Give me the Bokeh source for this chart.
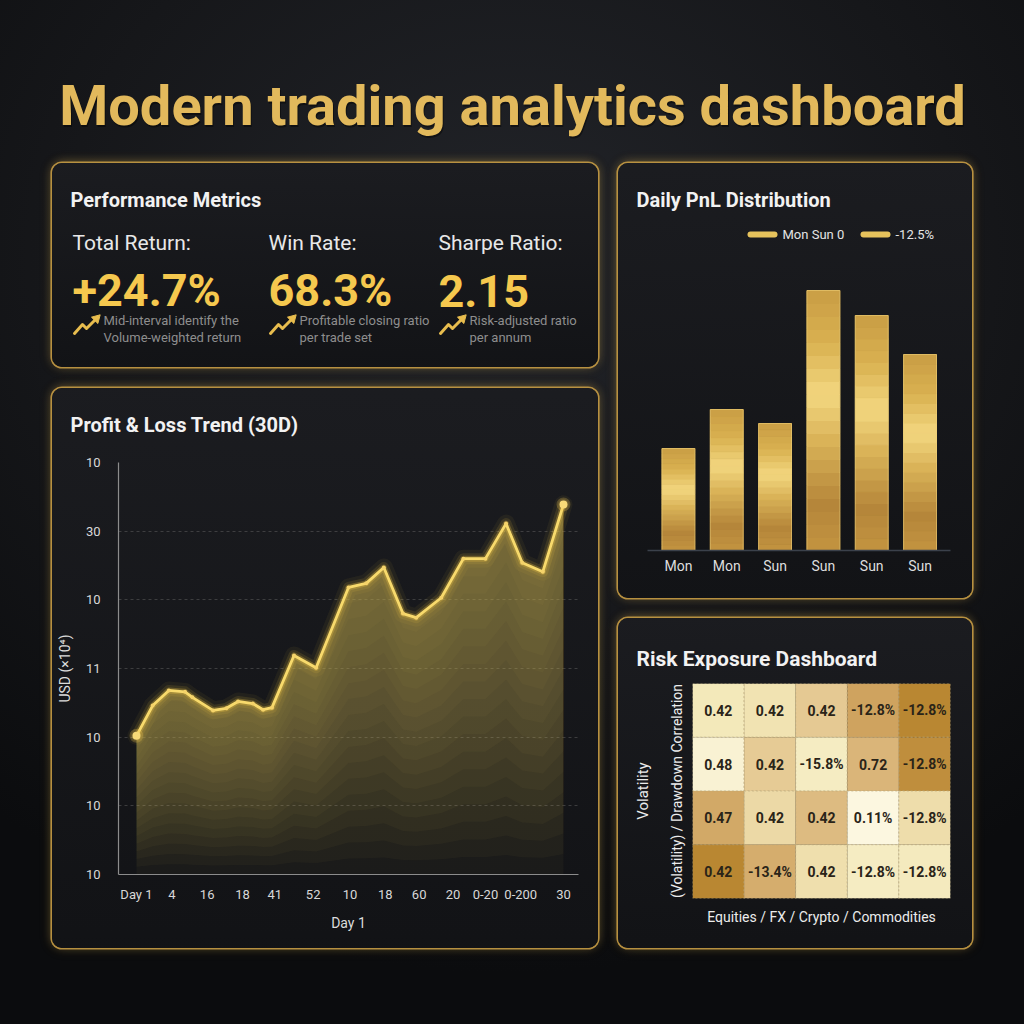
from bokeh.plotting import figure
from bokeh.layouts import column, row
from bokeh.models import Spacer, Range1d, FixedTicker, LinearAxis, ColumnDataSource, LinearColorMapper
from bokeh.core.properties import value
from bokeh.embed import file_html
from bokeh.resources import INLINE

FONT = "Roboto"

# ---------------- data ----------------
title_text = "Modern trading analytics dashboard"

metric_labels = ["Total Return:", "Win Rate:", "Sharpe Ratio:"]
metric_values = ["+24.7%", "68.3%", "2.15"]
metric_notes_1 = ["Mid-interval identify the", "Profitable closing ratio", "Risk-adjusted ratio"]
metric_notes_2 = ["Volume-weighted return", "per trade set", "per annum"]

pnl_days = [1, 2.1, 3.2, 4.3, 4.8, 6.2, 7.1, 7.9, 8.9, 9.6, 10.2, 11.7, 13.2,
            15.4, 16.6, 17.8, 19.1, 20.0, 21.7, 23.2, 24.7, 26.1, 27.2, 28.6, 30]
pnl_usd = [20.2, 24.6, 26.8, 26.6, 25.8, 23.9, 24.2, 25.2, 24.9, 24.0, 24.3, 31.9, 30.1,
           41.8, 42.4, 44.7, 38.0, 37.4, 40.3, 46.0, 46.0, 51.1, 45.4, 44.1, 53.9]
x_tick_days = [1, 3.4, 5.8, 8.2, 10.4, 13, 15.5, 17.9, 20.2, 22.5, 24.7, 27.1, 30]
x_tick_labels = ["Day 1", "4", "16", "18", "41", "52", "10", "18", "60", "20", "0-20", "0-200", "30"]
y_tick_values = [0, 10, 20, 30, 40, 50, 60]
y_tick_labels = ["10", "10", "10", "11", "10", "30", "10"]

bar_days = ["Mon", "Mon", "Sun", "Sun", "Sun", "Sun"]
bar_pnl = [10.2, 14.1, 12.7, 26.0, 23.5, 19.6]
bar_legend = ["Mon Sun 0", "-12.5%"]

risk_levels = [
    [0.15, 0.20, 0.40, 0.70, 0.95],
    [0.06, 0.38, 0.12, 0.55, 0.88],
    [0.65, 0.28, 0.50, 0.00, 0.24],
    [0.95, 0.62, 0.22, 0.12, 0.14],
]
risk_labels = [
    ["0.42", "0.42", "0.42", "-12.8%", "-12.8%"],
    ["0.48", "0.42", "-15.8%", "0.72", "-12.8%"],
    ["0.47", "0.42", "0.42", "0.11%", "-12.8%"],
    ["0.42", "-13.4%", "0.42", "-12.8%", "-12.8%"],
]

# ---------------- styling helpers ----------------
def hex2rgb(h):
    h = h.lstrip("#")
    return tuple(int(h[i:i + 2], 16) for i in (0, 2, 4))


def grad(stops, t):
    for (p0, c0), (p1, c1) in zip(stops[:-1], stops[1:]):
        if p0 <= t <= p1:
            f = 0 if p1 == p0 else (t - p0) / (p1 - p0)
            a, b = hex2rgb(c0), hex2rgb(c1)
            return "#%02x%02x%02x" % tuple(int(round(a[i] + (b[i] - a[i]) * f)) for i in range(3))
    return stops[-1][1]


PANEL = {
    "background": "linear-gradient(180deg, rgba(27,28,32,0.97) 0%, rgba(18,19,22,0.97) 100%)",
    "border-radius": "10px",
    "box-shadow": "0 0 0 1.6px rgba(190,150,66,0.95), 0 -1px 10px rgba(235,190,90,0.32), 0 0 14px rgba(200,155,60,0.18)",
    "overflow": "hidden",
}


def base_fig(w, h, **kw):
    p = figure(width=w, height=h, output_backend="svg", toolbar_location=None, **kw)
    p.background_fill_alpha = 0
    p.border_fill_alpha = 0
    p.outline_line_color = None
    p.min_border = 0
    return p


def pixel_fig(w, h, **kw):
    p = base_fig(w, h, x_range=Range1d(0, w), y_range=Range1d(h, 0),
                 x_axis_location=None, y_axis_location=None, **kw)
    p.grid.visible = False
    return p


def txt(p, x, y, t, size, color, style="normal", align="left", baseline="alphabetic", alpha=1.0, font=FONT):
    p.text(x=x, y=y, text=t, text_font=value(font), text_font_size=size, text_font_style=style,
           text_color=color, text_align=align, text_baseline=baseline, text_alpha=alpha)


def panel(header, chart):
    return column(column(header), column(chart), styles=PANEL)


# ---------------- title ----------------
tf = pixel_fig(1024, 163)
txt(tf, [513], [107], [title_text], "56px", "#000000", "bold", "center", alpha=0.4)
txt(tf, [512], [105], [title_text], "56px", "#e2b95c", "bold", "center")

# ---------------- performance metrics ----------------
mp = pixel_fig(546, 204, styles=PANEL)
txt(mp, [18], [36], ["Performance Metrics"], "20px", "#f2f2f2", "bold")
col_x = [20, 216, 386]
txt(mp, col_x, [79] * 3, metric_labels, "21px", "#e8e8e8")
txt(mp, col_x, [127] * 3, metric_values, "45px", "#f5c84e", "bold")
icon_dx = [2, 10, 14, 23]
icon_dy = [170, 161, 165, 156]
mp.multi_line(xs=[[cx + d for d in icon_dx] for cx in col_x], ys=[icon_dy] * 3,
              line_color="#e8bd4e", line_width=3, line_cap="round", line_join="round")
mp.scatter(x=[cx + 24 for cx in col_x], y=[155] * 3, marker="triangle", size=9,
           angle=-0.785, fill_color="#e8bd4e", line_color="#e8bd4e")
txt(mp, [cx + 31 for cx in col_x], [157] * 3, metric_notes_1, "13px", "#8e8e8e")
txt(mp, [cx + 31 for cx in col_x], [174] * 3, metric_notes_2, "13px", "#8e8e8e")

# ---------------- PnL trend ----------------
lh = pixel_fig(546, 60)
txt(lh, [18], [36], ["Profit & Loss Trend (30D)"], "20px", "#f2f2f2", "bold")

lp = base_fig(546, 500, x_range=Range1d(-0.22, 31.02), y_range=Range1d(0, 60))
lp.min_border_left = 66
lp.min_border_right = 20
lp.min_border_top = 14
lp.min_border_bottom = 74
lp.xgrid.visible = False
lp.ygrid.ticker = FixedTicker(ticks=y_tick_values)
lp.ygrid.grid_line_color = "#5c5c5c"
lp.ygrid.grid_line_alpha = 0.55
lp.ygrid.grid_line_dash = "3 3"

lp.xaxis.ticker = FixedTicker(ticks=x_tick_days)
lp.xaxis.major_label_overrides = dict(zip(x_tick_days, x_tick_labels))
lp.yaxis.ticker = FixedTicker(ticks=y_tick_values)
lp.yaxis.major_label_overrides = dict(zip(y_tick_values, y_tick_labels))
for ax in (lp.xaxis, lp.yaxis):
    ax.axis_line_color = "#8c8c8c"
    ax.axis_line_width = 1.2
    ax.major_tick_line_color = None
    ax.minor_tick_line_color = None
    ax.major_label_text_color = "#d8d8d8"
    ax.major_label_text_font = FONT
    ax.major_label_text_font_size = "13px"
    ax.axis_label_text_font = FONT
    ax.axis_label_text_font_size = "14px"
    ax.axis_label_text_font_style = "normal"
    ax.axis_label_text_color = "#dcdcdc"
lp.xaxis.axis_label = "Day 1"
lp.xaxis.major_label_standoff = 6
lp.xaxis.axis_label_standoff = 10
lp.yaxis.axis_label = "USD (×10⁴)"
lp.yaxis.major_label_standoff = 12
lp.yaxis.axis_label_standoff = 10

N_AREA = 18
for k in range(N_AREA):
    lp.varea(x=pnl_days, y1=[v * k / N_AREA for v in pnl_usd], y2=pnl_usd,
             fill_color="#cdb052", fill_alpha=0.042)
for w, a in ((18, 0.06), (11, 0.12), (6, 0.28)):
    lp.line(pnl_days, pnl_usd, line_color="#f2c444", line_width=w, line_alpha=a,
            line_join="round", line_cap="round")
lp.line(pnl_days, pnl_usd, line_color="#f8da6c", line_width=2.8, line_join="round", line_cap="round")
lp.scatter(pnl_days, pnl_usd, size=4, fill_color="#f5d36a", line_color=None)
lp.scatter([pnl_days[0], pnl_days[-1]], [pnl_usd[0], pnl_usd[-1]], size=14,
           fill_color="#f5c84e", fill_alpha=0.25, line_color=None)
lp.scatter([pnl_days[0], pnl_days[-1]], [pnl_usd[0], pnl_usd[-1]], size=8,
           fill_color="#f8da78", line_color=None)

line_panel = panel(lh, lp)

# ---------------- daily PnL bars ----------------
bh = pixel_fig(354, 90)
txt(bh, [18], [36], ["Daily PnL Distribution"], "20px", "#f2f2f2", "bold")
leg_x = [132, 245]
bh.segment(x0=leg_x, y0=[71, 71], x1=[x + 24 for x in leg_x], y1=[71, 71],
           line_color="#e6c25c", line_width=6, line_cap="round")
txt(bh, [x + 32 for x in leg_x], [71, 71], bar_legend, "13px", "#e4e4e4", baseline="middle")

bar_x = list(range(1, len(bar_pnl) + 1))
bp = base_fig(354, 345, x_range=Range1d(0.36, 6.63), y_range=Range1d(0, 28.5), y_axis_location=None)
bp.min_border_left = 29
bp.min_border_right = 22
bp.min_border_top = 12
bp.min_border_bottom = 48
bp.grid.visible = False
bp.xaxis.ticker = FixedTicker(ticks=bar_x)
bp.xaxis.major_label_overrides = dict(zip(bar_x, bar_days))
bp.xaxis.axis_line_color = "#3b414b"
bp.xaxis.axis_line_width = 1.6
bp.xaxis.major_tick_line_color = None
bp.xaxis.minor_tick_line_color = None
bp.xaxis.major_label_text_color = "#dedede"
bp.xaxis.major_label_text_font = FONT
bp.xaxis.major_label_text_font_size = "14px"
bp.xaxis.major_label_standoff = 1

bar_stops = [(0.0, "#c39440"), (0.18, "#b5863a"), (0.42, "#d9b257"), (0.6, "#f3d780"),
             (0.8, "#d9b150"), (1.0, "#c99d45")]
N_BAR = 20
for k in range(N_BAR):
    c = grad(bar_stops, (k + 0.5) / N_BAR)
    bp.vbar(x=bar_x, width=0.68, bottom=[v * k / N_BAR for v in bar_pnl],
            top=[v * (k + 1) / N_BAR for v in bar_pnl],
            fill_color=c, line_color=c, line_width=1)
bp.vbar(x=bar_x, width=0.68, top=bar_pnl, fill_alpha=0, line_color="#f0d27a", line_alpha=0.55, line_width=1)

bar_panel = panel(bh, bp)

# ---------------- risk heatmap ----------------
hh = pixel_fig(354, 55)
txt(hh, [18], [40], ["Risk Exposure Dashboard"], "21px", "#f2f2f2", "bold")

heat_stops = [(0.0, "#fcf7e0"), (0.15, "#f3e8b8"), (0.35, "#e8cf9a"), (0.55, "#dab67a"),
              (0.75, "#cb9c55"), (1.0, "#b5822a")]
palette = [grad(heat_stops, i / 63) for i in range(64)]
mapper = LinearColorMapper(palette=palette, low=0, high=1)

n_rows = len(risk_levels)
n_cols = len(risk_levels[0])
hx, hy, hl, ht = [], [], [], []
for r in range(n_rows):
    for c in range(n_cols):
        hx.append(c + 0.5)
        hy.append(n_rows - r - 0.5)
        hl.append(risk_levels[r][c])
        ht.append(risk_labels[r][c])
hsrc = ColumnDataSource(dict(x=hx, y=hy, level=hl, label=ht))

hp = base_fig(354, 275, x_range=Range1d(0, n_cols), y_range=Range1d(0, n_rows))
hp.min_border_left = 74
hp.min_border_right = 22
hp.min_border_top = 10
hp.min_border_bottom = 50
hp.grid.visible = False
hp.rect(x="x", y="y", width=1, height=1, source=hsrc,
        fill_color={"field": "level", "transform": mapper},
        line_color="#b9a77a", line_alpha=0.6, line_dash="2 2", line_width=1)
hp.text(x="x", y="y", text="label", source=hsrc, text_font=value(FONT), text_font_size="14px",
        text_font_style="bold", text_color="#2a2418", text_align="center", text_baseline="middle")

hp.xaxis.ticker = FixedTicker(ticks=[])
hp.yaxis.ticker = FixedTicker(ticks=[])
outer = LinearAxis(ticker=FixedTicker(ticks=[]))
hp.add_layout(outer, "left")
for ax in (hp.xaxis[0], hp.yaxis[0], outer):
    ax.axis_line_color = None
    ax.major_tick_line_color = None
    ax.minor_tick_line_color = None
    ax.axis_label_text_font = FONT
    ax.axis_label_text_font_style = "normal"
    ax.axis_label_text_color = "#ececec"
hp.xaxis.axis_label = "Equities / FX / Crypto / Commodities"
hp.xaxis.axis_label_text_font_size = "14px"
hp.xaxis.axis_label_standoff = 10
hp.yaxis[0].axis_label = "(Volatility) / Drawdown Correlation"
hp.yaxis[0].axis_label_text_font_size = "14px"
hp.yaxis[0].axis_label_standoff = 8
outer.axis_label = "Volatility"
outer.axis_label_text_font_size = "15px"
outer.axis_label_standoff = 14

heat_panel = panel(hh, hp)

# ---------------- page layout ----------------
root = column(
    tf,
    row(
        Spacer(width=52, height=785),
        column(mp, Spacer(width=546, height=21), line_panel),
        Spacer(width=20, height=785),
        column(bar_panel, Spacer(width=354, height=20), heat_panel),
        Spacer(width=52, height=785),
    ),
    Spacer(width=1024, height=76),
    styles={"background": "radial-gradient(ellipse 80% 70% at 50% 25%, #222429 0%, #16171a 55%, #0b0c0e 100%)"},
)

open("out.html", "w").write(file_html(root, INLINE, title="Modern trading analytics dashboard"))
